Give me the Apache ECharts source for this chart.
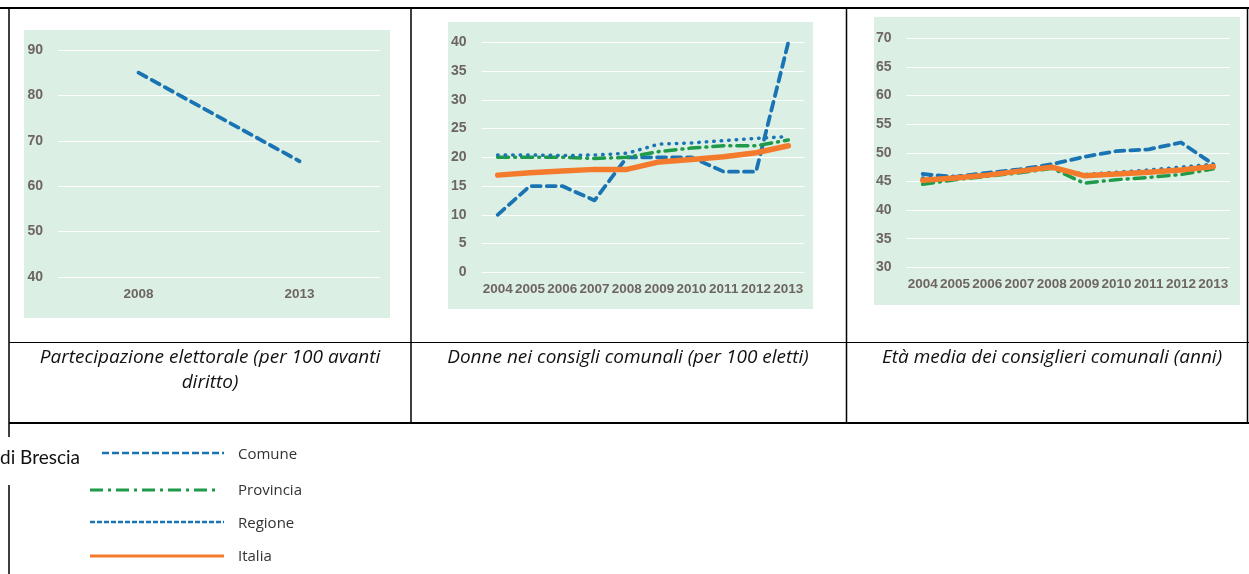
<!DOCTYPE html>
<html><head><meta charset="utf-8">
<script src="https://cdn.jsdelivr.net/npm/echarts@6/dist/echarts.min.js"></script>
<style>html,body{margin:0;padding:0;background:#fff;}#c{width:1249px;height:574px;}</style>
</head><body><div id="c"></div>
<script>
// ---- data ----
const years1 = ['2008', '2013'];
const partComune = [85, 65.5];

const years = ['2004','2005','2006','2007','2008','2009','2010','2011','2012','2013'];
const donneComune    = [10, 15, 15, 12.5, 20, 20, 20, 17.5, 17.5, 40];
const donneProvincia = [20, 20, 20, 19.8, 20, 21, 21.6, 22, 22, 23];
const donneRegione   = [20.4, 20.4, 20.3, 20.4, 20.7, 22.3, 22.5, 22.9, 23.3, 23.6];
const donneItalia    = [16.9, 17.3, 17.6, 17.9, 17.9, 19.2, 19.6, 20.1, 20.8, 22];

const etaComune    = [46.3, 45.8, 46.5, 47.1, 48, 49.3, 50.3, 50.6, 51.8, 48];
const etaProvincia = [44.5, 45.3, 45.9, 46.5, 47.3, 44.7, 45.3, 45.7, 46.2, 47.2];
const etaRegione   = [45.6, 45.9, 46.4, 46.9, 47.5, 46.2, 46.6, 47, 47.5, 48];
const etaItalia    = [45.2, 45.6, 46.1, 46.8, 47.5, 46, 46.3, 46.6, 47, 47.6];

const yTicks1 = {min: 40, max: 90, interval: 10};
const yTicks2 = {min: 0, max: 40, interval: 5};
const yTicks3 = {min: 30, max: 70, interval: 5};

const captions = ['Partecipazione elettorale (per 100 avanti\ndiritto)', 'Donne nei consigli comunali (per 100 eletti)', 'Età media dei consiglieri comunali (anni)'];
const legendNames = ['Comune', 'Provincia', 'Regione', 'Italia'];
const legendTitle = 'di Brescia';

// ---- styles ----
const BLUE = '#1a74b4', GREEN = '#1f9a48', ORANGE = '#f47a2c';
const AX_FONT = "'Liberation Sans',Arial,sans-serif";
const AX_COLOR = '#6d6660';
const styles = {
  Comune:    {color: BLUE, width: 3.8, type: [9, 6], cap: 'round'},
  Provincia: {color: GREEN, width: 3.5, type: [11, 6, 1, 6], cap: 'round'},
  Regione:   {color: BLUE, width: 3.5, type: [0.5, 7], cap: 'round'},
  Italia:    {color: ORANGE, width: 5.5, type: 'solid', cap: 'round'}
};

const grids = [
  {left: 58, top: 50, width: 322, height: 227},
  {left: 481.5, top: 42.3, width: 323, height: 230},
  {left: 906.5, top: 38.3, width: 323, height: 229}
];
function xAx(i, cats) {
  return {type: 'category', gridIndex: i, data: cats, boundaryGap: true,
    axisLine: {show: false}, axisTick: {show: false},
    axisLabel: {interval: 0, color: AX_COLOR, fontFamily: AX_FONT, fontWeight: 'bold', fontSize: 13.5, margin: 10}};
}
function yAx(i, t) {
  return {type: 'value', gridIndex: i, min: t.min, max: t.max, interval: t.interval,
    axisLine: {show: false}, axisTick: {show: false},
    splitLine: {show: true, lineStyle: {color: '#ffffff', width: 1}},
    axisLabel: {color: AX_COLOR, fontFamily: AX_FONT, fontWeight: 'bold', fontSize: 14, margin: 15}};
}
function ser(i, name, data) {
  const s = styles[name];
  return {type: 'line', name: name, xAxisIndex: i, yAxisIndex: i, data: data,
    symbol: 'none', silent: true, animation: false,
    lineStyle: {color: s.color, width: s.width, type: s.type, cap: s.cap, join: 'round'}};
}

const panels = [
  {x: 24, y: 30, w: 366, h: 288},
  {x: 448, y: 22, w: 365, h: 287},
  {x: 874, y: 17, w: 366, h: 288}
];
const graphics = [];
panels.forEach(p => graphics.push({type: 'rect', z: -10, shape: {x: p.x, y: p.y, width: p.w, height: p.h}, style: {fill: '#dcefe4'}}));
// table borders
function ln(x1, y1, x2, y2, w) {
  graphics.push({type: 'line', z: 10, shape: {x1, y1, x2, y2}, style: {stroke: '#000', lineWidth: w}});
}
ln(0, 8, 1249, 8, 2);
ln(9, 7, 9, 437, 1.5);
ln(411, 7, 411, 423, 1.5);
ln(846.5, 7, 846.5, 423, 1.5);
ln(1247.5, 7, 1247.5, 423, 1.5);
ln(9, 342.5, 1249, 342.5, 1);
ln(9, 423, 1249, 423, 2);
ln(9, 485, 9, 574, 1.5);
// captions
const capX = [210, 628, 1052];
captions.forEach((c, i) => graphics.push({type: 'text', x: capX[i], y: 345, style: {text: c, fill: '#111', font: "italic 19px 'Open Sans',sans-serif", align: 'center', verticalAlign: 'top', lineHeight: 25}}));
// legend
graphics.push({type: 'text', x: 0, y: 458, style: {text: legendTitle, fill: '#111', font: "19px 'Lato',sans-serif", verticalAlign: 'middle'}});
const legLines = [
  {x1: 102, x2: 224, y: 453, w: 2.5, dash: [7, 3]},
  {x1: 90, x2: 218, y: 490, w: 3, dash: [13, 5, 3, 5]},
  {x1: 90, x2: 224, y: 522, w: 2.5, dash: [5, 2]},
  {x1: 90, x2: 224, y: 556, w: 3, dash: null}
];
const legTextY = [455, 491, 524, 557];
const legColors = [BLUE, GREEN, BLUE, ORANGE];
legendNames.forEach((n, i) => {
  const l = legLines[i];
  graphics.push({type: 'line', shape: {x1: l.x1, y1: l.y, x2: l.x2, y2: l.y}, style: {stroke: legColors[i], lineWidth: l.w, lineDash: l.dash}});
  graphics.push({type: 'text', x: 238, y: legTextY[i], style: {text: n, fill: '#333', font: "15px 'Open Sans',sans-serif", verticalAlign: 'middle'}});
});

const chart = echarts.init(document.getElementById('c'), null, {renderer: 'canvas'});
chart.setOption({
  animation: false,
  grid: grids,
  xAxis: [xAx(0, years1), xAx(1, years), xAx(2, years)],
  yAxis: [yAx(0, yTicks1), yAx(1, yTicks2), yAx(2, yTicks3)],
  series: [
    ser(0, 'Comune', partComune),
    ser(1, 'Comune', donneComune), ser(1, 'Provincia', donneProvincia), ser(1, 'Regione', donneRegione), ser(1, 'Italia', donneItalia),
    ser(2, 'Comune', etaComune), ser(2, 'Provincia', etaProvincia), ser(2, 'Regione', etaRegione), ser(2, 'Italia', etaItalia)
  ],
  graphic: graphics
});
</script></body></html>
